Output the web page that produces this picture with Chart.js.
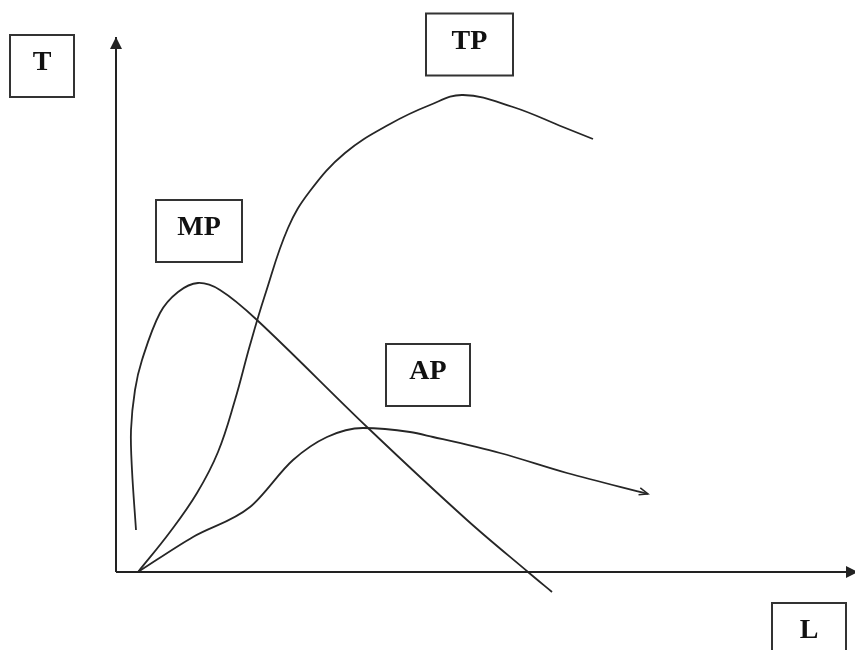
<!DOCTYPE html>
<html>
<head>
<meta charset="utf-8">
<script src="https://cdn.jsdelivr.net/npm/chart.js@4.4.0/dist/chart.umd.min.js"></script>
<style>
  html, body { margin: 0; padding: 0; background: #fff; }
  #wrap { position: relative; width: 855px; height: 650px; }
</style>
</head>
<body>
<div id="wrap"><canvas id="chart"></canvas></div>
<script>
// values, L along x, T up y
const tpL = [2.2, 5.4, 8.1, 10.2, 11.9, 13.4, 14.9, 17.2, 19.4, 22.9, 27.4, 31.4, 34.7, 39.7, 44.7, 47.7];
const tpT = [0, 4.0, 7.9, 12.0, 17.2, 22.7, 27.7, 34.4, 38.1, 41.9, 44.8, 46.7, 47.7, 46.5, 44.5, 43.3];

const apL = [2.2, 7.7, 13.4, 17.7, 21.1, 24.7, 29.4, 31.7, 38.4, 45.1, 53.2];
const apT = [0, 3.5, 6.5, 11.2, 13.5, 14.4, 14.0, 13.5, 11.9, 9.9, 7.8];

const mpL = [2.0, 1.6, 1.5, 1.9, 2.6, 4.4, 6.2, 8.2, 10.4, 14.1, 25.1, 35.1, 41.2, 43.6];
const mpT = [4.2, 10.2, 14.2, 18.2, 21.2, 25.9, 28.0, 28.9, 28.2, 25.2, 14.5, 5.2, 0, -2.0];

const axisXL = [0, 74.2];
const axisXT = [0, 0];
const axisYL = [0, 0];
const axisYT = [0, 53.5];

const labelText = ["T", "TP", "MP", "AP", "L"];
const labelL = [-7.4, 35.35, 8.3, 31.2, 69.3];
const labelT = [50.6, 52.75, 34.1, 19.7, -6.2];
const labelW = [64, 87, 86, 84, 74];

const toPoints = (xs, ys) => xs.map((x, i) => ({ x: x, y: ys[i] }));

// arrow heads at the last point of a dataset
const arrowPlugin = {
    id: "arrows",
    afterDatasetsDraw(chart) {
        const ctx = chart.ctx;
        chart.data.datasets.forEach((ds, i) => {
            if (!ds.arrow) return;
            const pts = chart.getDatasetMeta(i).data;
            const a = pts[pts.length - 2];
            const b = pts[pts.length - 1];
            const ang = Math.atan2(b.y - a.y, b.x - a.x);
            ctx.save();
            ctx.translate(b.x, b.y);
            ctx.rotate(ang);
            ctx.strokeStyle = ds.borderColor;
            ctx.fillStyle = ds.borderColor;
            ctx.lineWidth = 1.5;
            ctx.beginPath();
            if (ds.arrow === "solid") {
                ctx.moveTo(0, 0);
                ctx.lineTo(-12, -6);
                ctx.lineTo(-12, 6);
                ctx.closePath();
                ctx.fill();
            } else {
                ctx.moveTo(-9, -4);
                ctx.lineTo(0, 0);
                ctx.lineTo(-9, 3);
                ctx.stroke();
            }
            ctx.restore();
        });
    }
};

// boxed curve and axis names
const boxPlugin = {
    id: "boxes",
    afterDraw(chart) {
        const ctx = chart.ctx;
        const xs = chart.scales.x;
        const ys = chart.scales.y;
        ctx.save();
        labelText.forEach((t, i) => {
            const cx = xs.getPixelForValue(labelL[i]);
            const cy = ys.getPixelForValue(labelT[i]);
            const w = labelW[i];
            const h = 62;
            ctx.fillStyle = "#fff";
            ctx.fillRect(cx - w / 2, cy - h / 2, w, h);
            ctx.strokeStyle = "#333";
            ctx.lineWidth = 2;
            ctx.strokeRect(cx - w / 2, cy - h / 2, w, h);
            ctx.fillStyle = "#111";
            ctx.font = "bold 28px 'Liberation Serif', 'DejaVu Serif', serif";
            ctx.textAlign = "center";
            ctx.textBaseline = "middle";
            ctx.fillText(t, cx, cy - 3);
        });
        ctx.restore();
    }
};

const line = (label, xs, ys, extra) => Object.assign({
    label: label,
    data: toPoints(xs, ys),
    borderColor: "#262626",
    borderWidth: 1.8,
    pointRadius: 0,
    tension: 0.4,
    fill: false,
    clip: false
}, extra);

new Chart(document.getElementById("chart"), {
    type: "line",
    data: {
        datasets: [
            line("L axis", axisXL, axisXT, { borderColor: "#222", borderWidth: 2, tension: 0, arrow: "solid" }),
            line("T axis", axisYL, axisYT, { borderColor: "#222", borderWidth: 2, tension: 0, arrow: "solid" }),
            line("TP", tpL, tpT),
            line("MP", mpL, mpT, { tension: 0.35 }),
            line("AP", apL, apT, { cubicInterpolationMode: "monotone", arrow: "open" })
        ]
    },
    options: {
        responsive: true,
        maintainAspectRatio: false,
        animation: false,
        layout: { padding: 0 },
        plugins: {
            legend: { display: false },
            tooltip: { enabled: false }
        },
        scales: {
            x: { type: "linear", min: -11.6, max: 73.9, display: false },
            y: { type: "linear", min: -7.8, max: 57.2, display: false }
        }
    },
    plugins: [arrowPlugin, boxPlugin]
});
</script>
</body>
</html>
